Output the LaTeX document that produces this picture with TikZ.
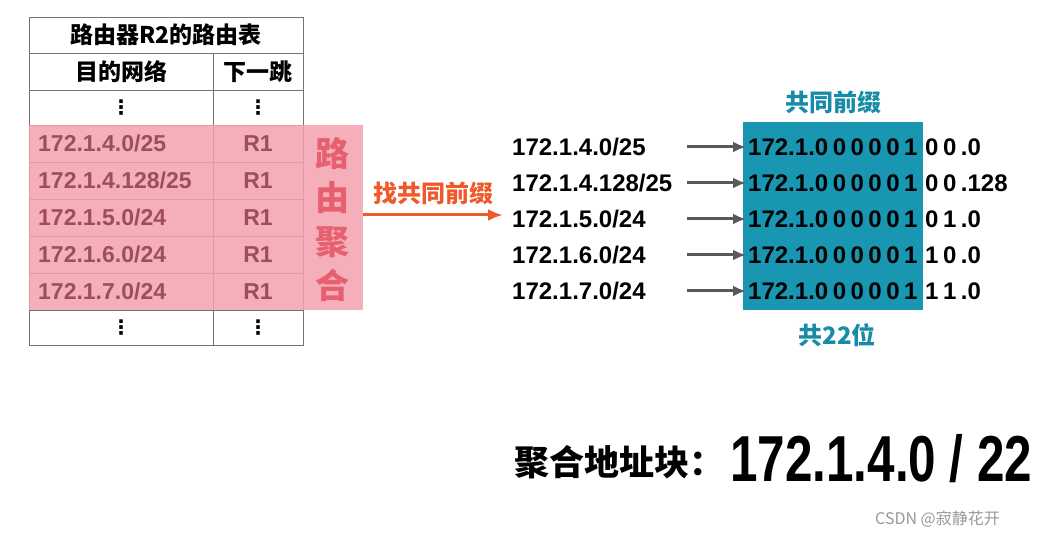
\documentclass[tikz,border=0pt]{standalone}
\usepackage{fontspec}
\setmainfont{Liberation Sans}
\newfontfamily\cjk{Noto Sans CJK SC}
\newfontfamily\symfnt{DejaVu Sans}
\usetikzlibrary{arrows.meta}
\definecolor{rowpink}{RGB}{243,162,174}
\definecolor{rowtext}{RGB}{158,78,90}
\definecolor{prefixbg}{RGB}{24,150,178}
\definecolor{prefixlbl}{RGB}{22,140,168}
\definecolor{findred}{RGB}{240,90,42}
\definecolor{aggred}{RGB}{232,96,112}
\newcommand\bitgap{\hspace{4.5pt}}
\begin{document}
\begin{tikzpicture}[x=1pt, y=-1pt, >=Latex,
    grid/.style={draw=black!55, line width=0.8pt},
    hdr/.style={font=\cjk\bfseries\fontsize{23}{23}\selectfont, inner sep=0pt},
    cell/.style={font=\bfseries\fontsize{23}{23}\selectfont, text=rowtext, inner sep=0pt},
    vdot/.style={font=\symfnt\bfseries\fontsize{20}{20}\selectfont, inner sep=0pt},
    addr/.style={font=\bfseries\fontsize{24}{24}\selectfont, anchor=west, inner sep=0pt},
    garrow/.style={-{Latex[length=13pt,width=11pt]}, draw=black!65, line width=3pt},
    lbl/.style={font=\cjk\bfseries\fontsize{24}{24}\selectfont, inner sep=0pt}]
  \useasboundingbox[fill=white] (0,0) rectangle (1041,537);
  % routing table of R2
  \draw[grid] (29,17) rectangle (303,345);
  \foreach \y in {53,90,125,162,199,236,273,310} \draw[grid] (29,\y) -- (303,\y);
  \draw[grid] (213,53) -- (213,345);
  \node[fill=rowpink, fill opacity=0.85, minimum width=334pt, minimum height=185pt, inner sep=0pt] (agg) at (196,217.5) {};
  \node[hdr] (title) at (166,35) {路由器R2的路由表};
  \node[hdr] (dest) at (121,72) {目的网络};
  \node[hdr] (hop) at (258,72) {下一跳};
  \node[vdot] (dtop) at (121,108) {⋮};
  \node[vdot] (htop) at (258,108) {⋮};
  \node[vdot] (dbot) at (121,328) {⋮};
  \node[vdot] (hbot) at (258,328) {⋮};
  \foreach \net [count=\i] in {{172.1.4.0/25},{172.1.4.128/25},{172.1.5.0/24},{172.1.6.0/24},{172.1.7.0/24}} {
    \node[cell, anchor=west] (net\i) at (38,{106.5+37*\i}) {\net};
    \node[cell] (via\i) at (258,{106.5+37*\i}) {R1};
  }
  \node[font=\cjk\bfseries\fontsize{34}{44}\selectfont, text=aggred, align=center, inner sep=0pt] (aggtxt) at (332,220) {路\\由\\聚\\合};
  % find the common prefix
  \node[lbl, text=findred] (find) at (433,193) {找共同前缀};
  \coordinate (fend) at (503,215);
  \draw[-{Latex[length=15pt,width=12pt]}, draw=findred, line width=3pt] (agg.east |- fend) -- (fend);
  \node[fill=prefixbg, minimum width=180pt, minimum height=188pt, inner sep=0pt] (prefix) at (833,216) {};
  \node[lbl, text=prefixlbl] (common) at (833,102) {共同前缀};
  \node[lbl, text=prefixlbl] (len) at (837,335) {共22位};
  \coordinate (astart) at (687,0);
  \foreach \net [count=\i] in {{172.1.4.0/25},{172.1.4.128/25},{172.1.5.0/24},{172.1.6.0/24},{172.1.7.0/24}}
    \node[addr] (addr\i) at (512,{111+36*\i}) {\net};
  \foreach \s [count=\i] in {0\bitgap0\bitgap.0, 0\bitgap0\bitgap.128, 0\bitgap1\bitgap.0, 1\bitgap0\bitgap.0, 1\bitgap1\bitgap.0} {
    \node[addr] (pre\i) at (748,{111+36*\i}) {172.1.0\bitgap0\bitgap0\bitgap0\bitgap0\bitgap1};
    \node[addr] (suf\i) at (925,{111+36*\i}) {\s};
    \draw[garrow] (astart |- pre\i.west) -- ([xshift=-2pt]pre\i.west);
  }
  % result
  \node[font=\cjk\bfseries\fontsize{35}{35}\selectfont, anchor=west, inner sep=0pt] (blklbl) at (514,462) {聚合地址块：};
  \node[font=\bfseries\fontsize{65}{65}\selectfont, anchor=west, inner sep=0pt] (blk) at (730,459) {\scalebox{0.76}[1]{172.1.4.0 / 22}};
  \node[font=\cjk\fontsize{16}{16}\selectfont, text=black!40, anchor=west, inner sep=0pt] (mark) at (875,519) {CSDN @寂静花开};
\end{tikzpicture}
\end{document}
